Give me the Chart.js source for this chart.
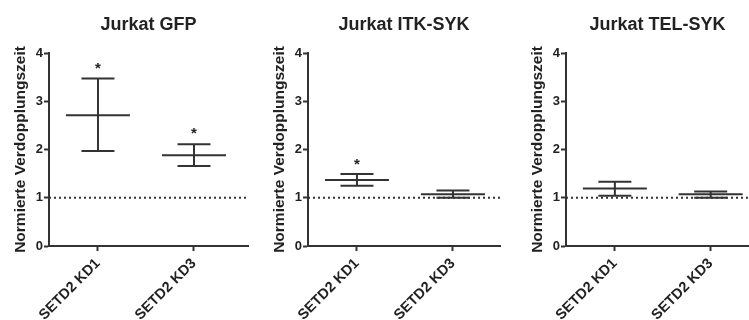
<!DOCTYPE html>
<html>
<head>
<meta charset="utf-8">
<script src="https://cdn.jsdelivr.net/npm/chart.js@4.4.0/dist/chart.umd.min.js"></script>
<style>
  html, body { margin: 0; padding: 0; background: #fff; }
  #wrap { position: relative; width: 749px; height: 320px; overflow: hidden; }
  #wrap canvas { position: absolute; top: 0; }
</style>
</head>
<body>
<div id="wrap">
  <canvas id="gfp" width="259" height="320" style="left:0px"></canvas>
  <canvas id="itk" width="258" height="320" style="left:259px"></canvas>
  <canvas id="tel" width="232" height="320" style="left:517px"></canvas>
</div>
<script>
// data
const categories = ['SETD2 KD1', 'SETD2 KD3'];
const yTicks = [0, 1, 2, 3, 4];
const baseline = 1;

const gfpMean = [2.71, 1.88];
const gfpUpper = [3.47, 2.11];
const gfpLower = [1.97, 1.66];
const gfpStars = [3.78, 2.42];

const itkMean = [1.37, 1.07];
const itkUpper = [1.49, 1.15];
const itkLower = [1.25, 1.0];
const itkStars = [1.78, null];

const telMean = [1.19, 1.07];
const telUpper = [1.33, 1.13];
const telLower = [1.04, 1.0];
const telStars = [null, null];

const ink = '#222';
const lineInk = '#333';
const family = '"Liberation Sans", Arial, sans-serif';

// asterisks above significant groups
const starPlugin = {
    id: 'stars',
    afterDatasetsDraw(chart, args, opts) {
        const { ctx, scales } = chart;
        ctx.save();
        ctx.font = 'bold 15px ' + family;
        ctx.fillStyle = ink;
        ctx.textAlign = 'center';
        ctx.textBaseline = 'alphabetic';
        opts.values.forEach((v, i) => {
            if (v === null) return;
            ctx.fillText('*', scales.x.getPixelForValue(i), scales.y.getPixelForValue(v) + 9);
        });
        ctx.restore();
    }
};

function makePanel(id, title, mean, upper, lower, stars, xMax, padRight) {
    const xMin = -0.51;
    const datasets = [];

    // dotted reference line at 1
    datasets.push({
        type: 'line',
        data: [{ x: xMin, y: baseline }, { x: xMax, y: baseline }],
        borderColor: lineInk,
        borderWidth: 2,
        borderDash: [2, 3],
        pointRadius: 0
    });

    // vertical whiskers
    categories.forEach((c, i) => {
        datasets.push({
            type: 'line',
            data: [{ x: i, y: lower[i] }, { x: i, y: upper[i] }],
            borderColor: lineInk,
            borderWidth: 2,
            pointRadius: 0
        });
    });

    // caps
    datasets.push({
        type: 'scatter',
        data: categories.flatMap((c, i) => [{ x: i, y: upper[i] }, { x: i, y: lower[i] }]),
        pointStyle: 'line',
        pointRadius: 16.5,
        borderColor: lineInk,
        borderWidth: 2
    });

    // means
    datasets.push({
        type: 'scatter',
        data: categories.map((c, i) => ({ x: i, y: mean[i] })),
        pointStyle: 'line',
        pointRadius: 32,
        borderColor: lineInk,
        borderWidth: 2
    });

    new Chart(document.getElementById(id), {
        type: 'scatter',
        data: { datasets: datasets },
        plugins: [starPlugin],
        options: {
            responsive: false,
            animation: false,
            events: [],
            layout: { autoPadding: false, padding: { top: 0, right: padRight, bottom: 0, left: 0 } },
            plugins: {
                legend: { display: false },
                tooltip: { enabled: false },
                stars: { values: stars },
                title: {
                    display: true,
                    text: title,
                    fullSize: false,
                    color: ink,
                    font: { family: family, size: 18, weight: 'bold' },
                    padding: { top: 14.5, bottom: 16.9 }
                }
            },
            scales: {
                x: {
                    type: 'linear',
                    min: xMin,
                    max: xMax,
                    afterBuildTicks: (scale) => { scale.ticks = categories.map((c, i) => ({ value: i })); },
                    afterFit: (scale) => {
                        scale.height = 74;
                        scale.paddingLeft = 0;
                        scale.paddingRight = 0;
                    },
                    grid: { drawOnChartArea: false, drawTicks: true, tickLength: 5, tickColor: lineInk, tickWidth: 2 },
                    border: { display: true, color: lineInk, width: 2 },
                    ticks: {
                        autoSkip: false,
                        minRotation: 45,
                        maxRotation: 45,
                        padding: 4,
                        color: ink,
                        font: { family: family, size: 14.5, weight: 'bold' },
                        callback: (v, i) => categories[i]
                    }
                },
                y: {
                    min: yTicks[0],
                    max: yTicks[yTicks.length - 1],
                    afterBuildTicks: (scale) => { scale.ticks = yTicks.map(v => ({ value: v })); },
                    afterFit: (scale) => {
                        scale.width = 49;
                        scale.paddingTop = 0;
                        scale.paddingBottom = 0;
                    },
                    grid: { drawOnChartArea: false, drawTicks: true, tickLength: 5, tickColor: lineInk, tickWidth: 2 },
                    border: { display: true, color: lineInk, width: 2 },
                    ticks: {
                        padding: 1,
                        color: ink,
                        font: { family: family, size: 13, weight: 'bold' }
                    },
                    title: {
                        display: true,
                        text: 'Normierte Verdopplungszeit',
                        color: ink,
                        font: { family: family, size: 15.5, weight: 'bold' },
                        padding: { top: 11, bottom: 0 }
                    }
                }
            }
        }
    });
}

makePanel('gfp', 'Jurkat GFP', gfpMean, gfpUpper, gfpLower, gfpStars, 1.5625, 11);
makePanel('itk', 'Jurkat ITK-SYK', itkMean, itkUpper, itkLower, itkStars, 1.49, 17);
makePanel('tel', 'Jurkat TEL-SYK', telMean, telUpper, telLower, telStars, 1.40, 0);
</script>
</body>
</html>
